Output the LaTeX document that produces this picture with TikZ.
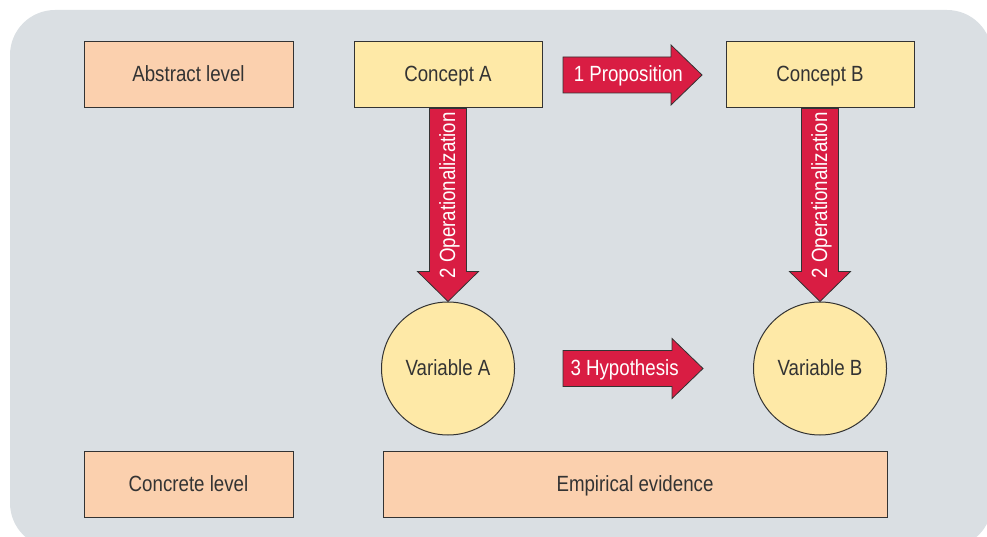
\documentclass[tikz,border=0pt]{standalone}
\usepackage{fontspec}
\setmainfont[FakeStretch=0.85]{Liberation Sans}
\usetikzlibrary{calc}

\definecolor{panel}{HTML}{DADFE3}
\definecolor{peach}{HTML}{FBD0AE}
\definecolor{pale}{HTML}{FEE9A7}
\definecolor{crimson}{HTML}{D91D43}
\definecolor{ink}{HTML}{333333}

% fat arrow pointing right: #1 tail, #2 tip
\newcommand{\fatright}[2]{%
  \filldraw[fatarrow] let \p1=(#1), \p2=(#2) in
    (\x1,\y1+18pt) -- (\x2-31pt,\y1+18pt) -- (\x2-31pt,\y1+30pt) -- (\x2,\y1)
    -- (\x2-31pt,\y1-30pt) -- (\x2-31pt,\y1-18pt) -- (\x1,\y1-18pt) -- cycle;}
% fat arrow pointing down: #1 tail, #2 tip
\newcommand{\fatdown}[2]{%
  \filldraw[fatarrow] let \p1=(#1), \p2=(#2) in
    (\x1-18.5pt,\y1) -- (\x1-18.5pt,\y2+30pt) -- (\x1-30.5pt,\y2+30pt) -- (\x1,\y2)
    -- (\x1+30.5pt,\y2+30pt) -- (\x1+18.5pt,\y2+30pt) -- (\x1+18.5pt,\y1) -- cycle;}

\begin{document}
\begin{tikzpicture}[x=1pt,y=-1pt,
  every node/.style={font=\fontsize{22}{26}\selectfont, text height=16pt, text depth=2pt},
  box/.style={draw=ink, line width=1pt, minimum height=66pt, inner sep=0pt, text=ink},
  levelbox/.style={box, fill=peach},
  conceptbox/.style={box, fill=pale, minimum width=188pt},
  varcircle/.style={circle, draw=ink, line width=1pt, fill=pale, minimum size=133pt, inner sep=0pt, text=ink},
  fatarrow/.style={fill=crimson, draw=ink, line width=0.8pt, line join=miter},
  arrowlabel/.style={text=white, inner sep=0pt}
]
\useasboundingbox (0,0) rectangle (987,537);
\fill[panel, rounded corners=45pt] (10,10) rectangle (992,548);

% abstract row
\node[levelbox, minimum width=209pt] (abs) at (188.5,75) {Abstract level};
\node[conceptbox] (cA) at (448,75) {Concept A};
\node[conceptbox] (cB) at (820,75) {Concept B};

% variables
\node[varcircle] (vA) at (448,368.5) {Variable A};
\node[varcircle] (vB) at (820,368.5) {Variable B};

% concrete row
\node[levelbox, minimum width=209pt] (con) at (188.5,484) {Concrete level};
\node[levelbox, minimum width=504pt] (emp) at (635,484) {Empirical evidence};

% horizontal arrow ends
\coordinate (propS) at (563,75);
\coordinate (propE) at (702,75);
\coordinate (hypS) at (563,368.5);
\coordinate (hypE) at (703,368.5);

% arrows
\fatright{propS}{propE}
\fatright{hypS}{hypE}
\fatdown{cA.south}{vA.north}
\fatdown{cB.south}{vB.north}

% arrow labels
\node[arrowlabel] at ($(propS)!0.47!(propE)$) {1 Proposition};
\node[arrowlabel] at ($(hypS)!0.44!(hypE)$) {3 Hypothesis};
\node[arrowlabel, rotate=90] at ($(cA.south)!0.45!(vA.north)$) {2 Operationalization};
\node[arrowlabel, rotate=90] at ($(cB.south)!0.45!(vB.north)$) {2 Operationalization};
\end{tikzpicture}
\end{document}
